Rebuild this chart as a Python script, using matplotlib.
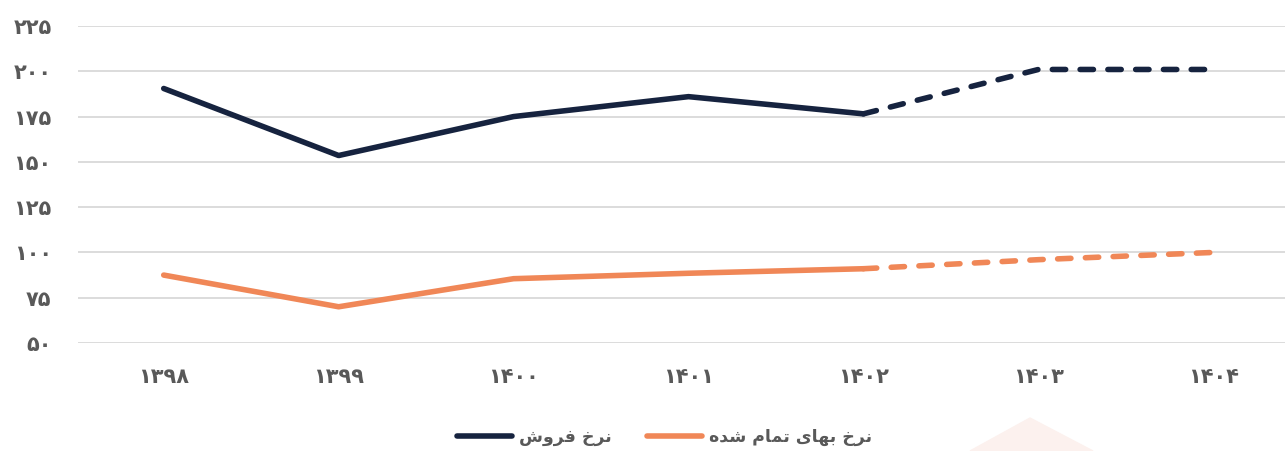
import matplotlib.pyplot as plt
from matplotlib.patches import Polygon

# سال‌ها (ارقام فارسی)
years = ["۱۳۹۸", "۱۳۹۹", "۱۴۰۰", "۱۴۰۱", "۱۴۰۲", "۱۴۰۳", "۱۴۰۴"]
sales_rate = [190.5, 153.5, 175, 186, 176.5, 201, 201]
cost_rate = [87.5, 70, 85.5, 88.5, 91, 96, 100]
n_actual = 5  # تا ۱۴۰۲ واقعی، بعد پیش‌بینی

yticks = [50, 75, 100, 125, 150, 175, 200, 225]
ytick_labels = ["۵۰", "۷۵", "۱۰۰", "۱۲۵", "۱۵۰", "۱۷۵", "۲۰۰", "۲۲۵"]

# matplotlib حروف عربی را وصل نمی‌کند، پس شکل‌های نمایشی با ترتیب دیداری
label_sales = "ﺵﻭﺮﻓ ﺥﺮﻧ"          # نرخ فروش
label_cost = "ﻩﺪﺷ ﻡﺎﻤﺗ ﻯﺎﻬﺑ ﺥﺮﻧ"  # نرخ بهای تمام شده

navy = "#16233f"
orange = "#f08757"
grey = "#595959"

plt.rcParams['font.family'] = ['DejaVu Sans']

fig = plt.figure(figsize=(12.85, 4.51), dpi=100)
ax = fig.add_axes([78/1285, 1-343/451, 1-78/1285, (343-26)/451])

x = list(range(len(years)))
dash = (0, (2.4, 2.6))
ax.plot(x[:n_actual], sales_rate[:n_actual], color=navy, lw=4,
        solid_capstyle='round', solid_joinstyle='round', clip_on=False, label=label_sales)
ax.plot(x[n_actual-1:], sales_rate[n_actual-1:], color=navy, lw=4, ls=dash,
        dash_capstyle='round', clip_on=False)
ax.plot(x[:n_actual], cost_rate[:n_actual], color=orange, lw=4,
        solid_capstyle='round', solid_joinstyle='round', clip_on=False, label=label_cost)
ax.plot(x[n_actual-1:], cost_rate[n_actual-1:], color=orange, lw=4, ls=dash,
        dash_capstyle='round', clip_on=False)

ax.set_xlim(-0.49, 6.41)
ax.set_ylim(50, 225)
ax.set_xticks(x)
ax.set_xticklabels(years)
ax.set_yticks(yticks)
ax.set_yticklabels(ytick_labels)
ax.tick_params(length=0, labelsize=15, labelcolor=grey)
ax.tick_params(axis='x', pad=17)
ax.tick_params(axis='y', pad=19)
for lbl in ax.get_xticklabels() + ax.get_yticklabels():
    lbl.set_fontweight('bold')
ax.grid(axis='y', color="#d9d9d9", lw=1.3)
ax.set_axisbelow(True)
for s in ax.spines.values():
    s.set_visible(False)

leg = fig.legend(loc='center', bbox_to_anchor=(0.517, 1-437/451), ncol=2, frameon=False,
                 fontsize=12.5, handlelength=3.2, columnspacing=2.0, handletextpad=0.4)
for t in leg.get_texts():
    t.set_color(grey)
    t.set_fontweight('bold')

# مثلث کم‌رنگ پایین
tri = Polygon([[970/1285, 0], [1030/1285, 1-418/451], [1093/1285, 0]],
              closed=True, transform=fig.transFigure, color="#fcf1ee", zorder=-1)
fig.patches.append(tri)

fig.savefig("out.png", dpi=100)
